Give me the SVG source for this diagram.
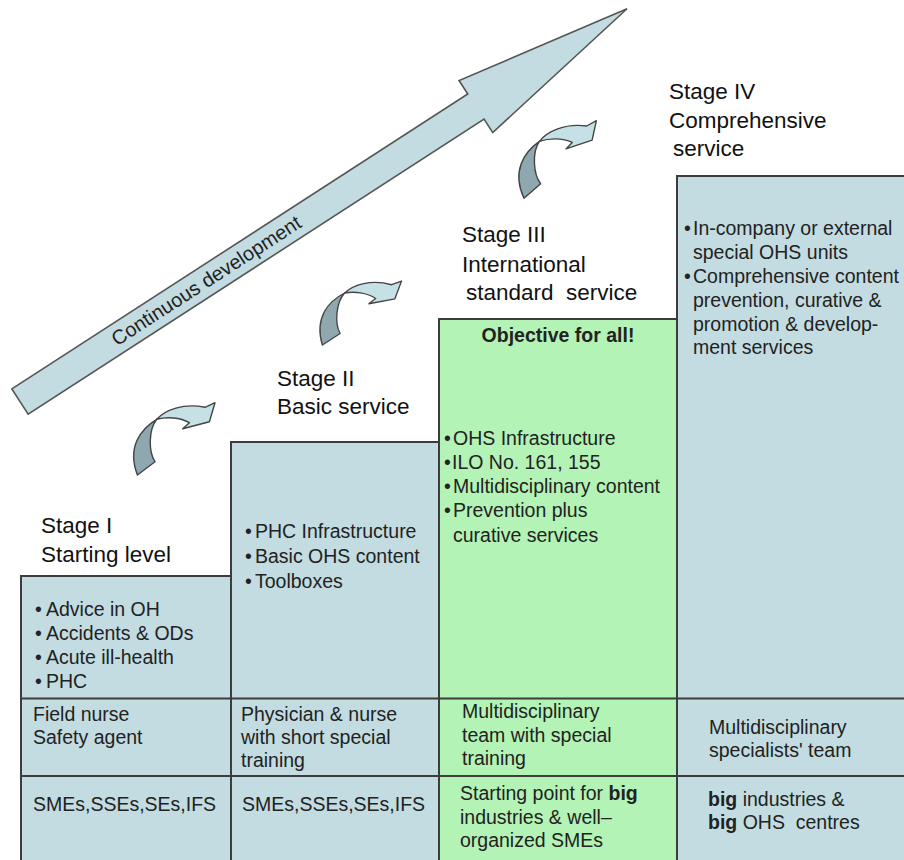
<svg xmlns="http://www.w3.org/2000/svg" width="904" height="860" viewBox="0 0 904 860">
<defs>
<style>
text{font-family:"Liberation Sans",Arial,Helvetica,sans-serif;}
.h{font-size:22.5px;fill:#111;}
.b{font-size:19.5px;fill:#222;}
.bd{font-weight:bold;}
.col{fill:#c2dce1;stroke:#3c3c3c;stroke-width:2;}
.green{fill:#b3f3b5;}
.row{stroke:#3c3c3c;stroke-width:2;fill:none;}
.big{fill:#c2dce1;stroke:#555;stroke-width:1.6;stroke-linejoin:miter;}
.cf{fill:#c6e1e6;stroke:#444;stroke-width:1.4;stroke-linejoin:round;}
.cb{fill:#8fa7ae;stroke:#444;stroke-width:1.4;stroke-linejoin:round;}
</style>
<g id="curl">
<path class="cb" d="M20,-55.7 C4,-46 -10,-28 0.7,0 L18.3,-13.3 C11.7,-23.3 11.7,-45 20,-55.7 Z"/>
<path class="cf" d="M20,-55.7 C28.3,-65 46.7,-72.3 68.3,-67.7 L78.3,-72.3 L72.7,-53.3 L46,-46.3 L52.7,-52.3 C43.3,-57.7 30,-58.3 20,-55.7 Z"/>
</g>
</defs>
<rect x="0" y="0" width="904" height="860" fill="#fff"/>

<g id="stage1">
<rect class="col" x="21" y="576" width="210" height="290"/>
<text class="h" x="41" y="533">Stage I</text>
<text class="h" x="41" y="562">Starting level</text>
<text class="b" x="35" y="616">•<tspan x="46">Advice in OH</tspan></text>
<text class="b" x="35" y="640">•<tspan x="46">Accidents &amp; ODs</tspan></text>
<text class="b" x="35" y="664">•<tspan x="46">Acute ill-health</tspan></text>
<text class="b" x="35" y="688">•<tspan x="46">PHC</tspan></text>
<text class="b" x="33" y="721">Field nurse</text>
<text class="b" x="33" y="744">Safety agent</text>
<text class="b" x="33" y="811">SMEs,SSEs,SEs,IFS</text>
</g>

<g id="stage2">
<rect class="col" x="231" y="442" width="208" height="424"/>
<text class="h" x="277" y="386">Stage II</text>
<text class="h" x="277" y="414">Basic service</text>
<text class="b" x="245" y="538">•<tspan x="255">PHC Infrastructure</tspan></text>
<text class="b" x="245" y="563">•<tspan x="255">Basic OHS content</tspan></text>
<text class="b" x="245" y="588">•<tspan x="255">Toolboxes</tspan></text>
<text class="b" x="241" y="721">Physician &amp; nurse</text>
<text class="b" x="241" y="744">with short special</text>
<text class="b" x="241" y="767">training</text>
<text class="b" x="242" y="811">SMEs,SSEs,SEs,IFS</text>
</g>

<g id="stage3">
<rect class="col green" x="439" y="319" width="238" height="547"/>
<text class="h" x="462" y="242">Stage III</text>
<text class="h" x="462" y="272">International</text>
<text class="h" x="466" y="300" xml:space="preserve">standard  service</text>
<text class="b bd" x="558" y="342" text-anchor="middle" fill="#111">Objective for all!</text>
<text class="b" x="444" y="445">•<tspan x="453">OHS Infrastructure</tspan></text>
<text class="b" x="444" y="469">•<tspan x="452">ILO No. 161, 155</tspan></text>
<text class="b" x="444" y="493">•<tspan x="453">Multidisciplinary content</tspan></text>
<text class="b" x="444" y="517">•<tspan x="453">Prevention plus</tspan></text>
<text class="b" x="453" y="542">curative services</text>
<text class="b" x="462" y="718">Multidisciplinary</text>
<text class="b" x="462" y="742">team with special</text>
<text class="b" x="462" y="765">training</text>
<text class="b" x="460" y="800">Starting point for <tspan class="bd">big</tspan></text>
<text class="b" x="460" y="824">industries &amp; well–</text>
<text class="b" x="460" y="847">organized SMEs</text>
</g>

<g id="stage4">
<rect class="col" x="677" y="176" width="235" height="690"/>
<text class="h" x="669" y="99">Stage IV</text>
<text class="h" x="669" y="128">Comprehensive</text>
<text class="h" x="673" y="156">service</text>
<text class="b" x="684" y="235">•<tspan x="693">In-company or external</tspan></text>
<text class="b" x="693" y="259">special OHS units</text>
<text class="b" x="684" y="283">•<tspan x="693">Comprehensive content</tspan></text>
<text class="b" x="693" y="307">prevention, curative &amp;</text>
<text class="b" x="693" y="331">promotion &amp; develop-</text>
<text class="b" x="693" y="354">ment services</text>
<text class="b" x="709" y="734">Multidisciplinary</text>
<text class="b" x="709" y="757">specialists' team</text>
<text class="b" x="708" y="806"><tspan class="bd">big</tspan> industries &amp;</text>
<text class="b" x="708" y="829" xml:space="preserve"><tspan class="bd">big</tspan> OHS  centres</text>
</g>

<g id="grid">
<line class="row" x1="21" y1="698.5" x2="904" y2="698.5"/>
<line class="row" x1="21" y1="776" x2="904" y2="776"/>
</g>

<g id="connectors">
<g id="development-arrow" transform="translate(20,401.5) rotate(-32.9)">
<path class="big" d="M0,-15 L543,-15 L543,-31 L723,0 L543,31 L543,15 L0,15 Z"/>
<text x="222" y="6.5" text-anchor="middle" style="font-size:20px;fill:#222">Continuous development</text>
</g>
<use href="#curl" transform="translate(136.7,475)"/>
<use href="#curl" transform="translate(321.7,345) rotate(4) scale(0.96)"/>
<use href="#curl" transform="translate(523.3,198.3) rotate(-4)"/>
</g>
</svg>
